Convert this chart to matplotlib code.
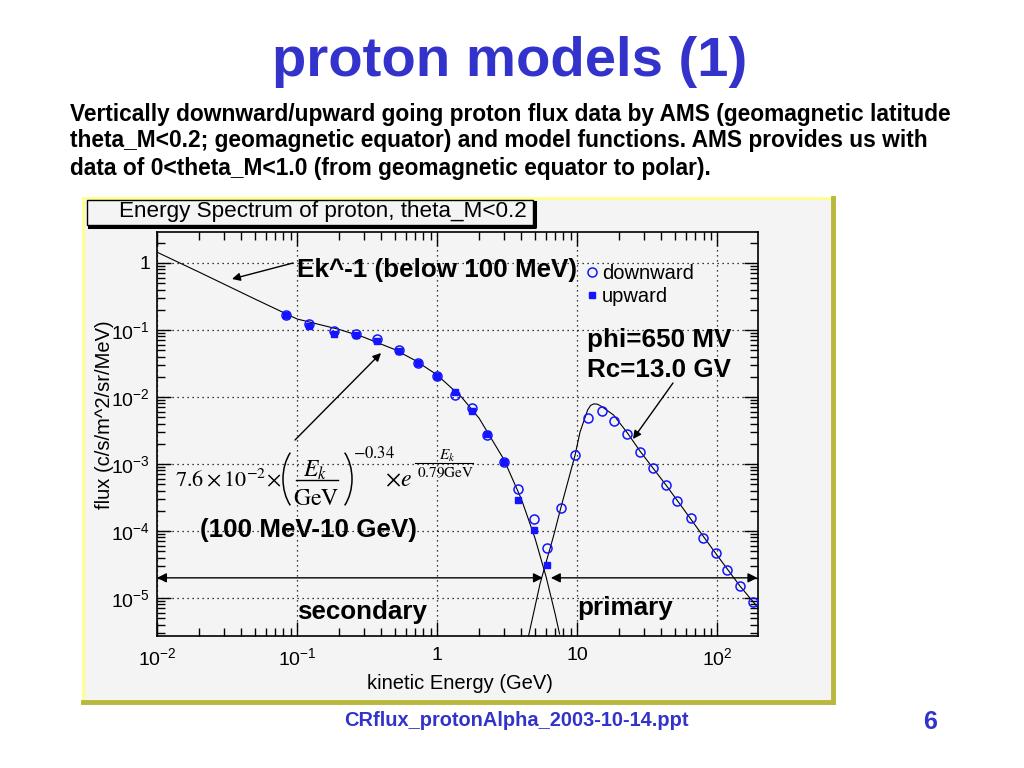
import matplotlib
matplotlib.use("Agg")
import matplotlib.pyplot as plt
import numpy as np
from matplotlib.patches import Rectangle, Arc
from matplotlib.lines import Line2D
from matplotlib.transforms import IdentityTransform
from matplotlib.ticker import LogLocator, FuncFormatter, NullFormatter

plt.rcParams['font.family'] = ['Liberation Sans', 'DejaVu Sans']
plt.rcParams['mathtext.fontset'] = 'custom'
plt.rcParams['mathtext.rm'] = 'Liberation Sans'

# AMS data, secondary part (downward circles, upward squares)
sec_energy = [0.084, 0.122, 0.184, 0.264, 0.371, 0.532, 0.728, 1.0, 1.345, 1.77, 2.29, 3.01, 3.81, 4.93, 6.14]
sec_down = [0.168, 0.121, 0.096, 0.086, 0.073, 0.050, 0.0325, 0.0208, 0.0108, 0.0068, 0.0027, 0.00108, 4.3e-4, 1.49e-4, 5.6e-5]
sec_up = [0.165, 0.115, 0.086, 0.085, 0.068, 0.049, 0.032, 0.0205, 0.0118, 0.0062, 0.0028, 0.00108, 2.9e-4, 1.03e-4, 3.1e-5]

# AMS data, primary part (downward only)
prim_energy = [7.65, 9.68, 11.9, 15.0, 18.4, 22.9, 28.2, 34.7, 43.0, 52.0, 64.8, 79.8, 98.4, 118.5, 146, 182]
prim_down = [2.23e-4, 1.36e-3, 4.8e-3, 6.25e-3, 4.43e-3, 2.77e-3, 1.49e-3, 8.6e-4, 4.86e-4, 2.84e-4,
             1.55e-4, 7.9e-5, 4.65e-5, 2.62e-5, 1.51e-5, 8.8e-6]

# model curves
sec_model_e = [0.01, 0.02, 0.05, 0.1, 0.2, 0.3, 0.5, 0.7, 1.0, 1.5, 2.0, 3.0, 4.0, 5.0, 6.0, 7.0, 7.5]
sec_model_f = [1.45, 0.73, 0.29, 0.146, 0.102, 0.078, 0.051, 0.035, 0.0214, 0.0099, 0.0048, 0.00117,
               3.0e-4, 7.9e-5, 2.1e-5, 5.6e-6, 2.9e-6]
prim_model_e = [4.5, 5.45, 6.77, 7.65, 9.68, 10.5, 11.9, 12.5, 13.2, 14.0, 15.0, 18.2, 22.9, 28.2, 43.0,
                65.0, 98.0, 146, 196]
prim_model_f = [2.7e-6, 1.66e-5, 8.2e-5, 2.2e-4, 1.36e-3, 3.0e-3, 6.4e-3, 7.5e-3, 7.9e-3, 7.8e-3, 7.2e-3,
                5.4e-3, 2.9e-3, 1.55e-3, 4.9e-4, 1.5e-4, 4.6e-5, 1.5e-5, 7.2e-6]

W, H = 1024, 768
BLUE_TXT = '#3333cc'
MARK = '#1414ff'
PIX = IdentityTransform()


def fx(px):
    return px / W


def fy(py):
    return 1 - py / H


fig = plt.figure(figsize=(10.24, 7.68), dpi=100)


def px_line(xs, ys, **kw):
    fig.add_artist(Line2D(xs, [H - y for y in ys], transform=PIX, **kw))


def px_text(x, y, s, **kw):
    fig.text(x, H - y, s, transform=PIX, **kw)


# slide texts
fig.text(fx(510), fy(62), 'proton models (1)', color=BLUE_TXT, fontsize=40.5,
         fontweight='bold', ha='center', va='center')
para = ['Vertically downward/upward going proton flux data by AMS (geomagnetic latitude',
        'theta_M<0.2; geomagnetic equator) and model functions. AMS provides us with',
        'data of 0<theta_M<1.0 (from geomagnetic equator to polar).']
for i, line in enumerate(para):
    fig.text(fx(70), fy(114 + 27 * i), line, fontsize=16.4, fontweight='bold', ha='left', va='center')
fig.text(fx(516), fy(720), 'CRflux_protonAlpha_2003-10-14.ppt', color=BLUE_TXT, fontsize=14.4,
         fontweight='bold', ha='center', va='center')
fig.text(fx(930), fy(722), '6', color=BLUE_TXT, fontsize=18, fontweight='bold', ha='center', va='center')

# ROOT canvas with its yellow frame
fig.add_artist(Rectangle((fx(83), fy(702)), (833 - 83) / W, (702 - 198) / H, transform=fig.transFigure,
                         facecolor='#f4f4f4', edgecolor='none', zorder=-2))
for (x0, y0, x1, y1, c, w) in [(83, 198, 833, 198, '#ffff8a', 2), (83, 198, 83, 702, '#ffff8a', 2),
                               (83, 702, 833, 702, '#b8b83c', 3.5), (833, 198, 833, 702, '#b8b83c', 3.5)]:
    px_line([x0, x1], [y0, y1], color=c, lw=w, zorder=-1)

# title pave with shadow
fig.add_artist(Rectangle((fx(87), fy(225)), (533 - 87) / W, (225 - 200) / H, transform=fig.transFigure,
                         facecolor='#f4f4f4', edgecolor='black', lw=1, zorder=3))
px_line([89, 535, 535], [226.5, 226.5, 202], color='black', lw=2.2, zorder=3)
fig.text(fx(323), fy(212), 'Energy Spectrum of proton, theta_M<0.2', fontsize=16.2, ha='center',
         va='center', zorder=4)

ax = fig.add_axes([fx(157), fy(636), (758 - 157) / W, (636 - 232) / H])
ax.set_facecolor('#f4f4f4')
ax.set_xscale('log')
ax.set_yscale('log')
ax.set_xlim(0.01, 196)
ax.set_ylim(2.71e-6, 2.9)

ax.plot(sec_model_e, sec_model_f, color='black', lw=0.8, zorder=2)
ax.plot(prim_model_e, prim_model_f, color='black', lw=0.8, zorder=2)
ax.plot(sec_energy, sec_up, ls='none', marker='s', ms=5, color=MARK, zorder=3)
ax.plot(sec_energy, sec_down, ls='none', marker='o', ms=6.5, mfc='none', mec=MARK, mew=1.1, zorder=4)
ax.plot(prim_energy, prim_down, ls='none', marker='o', ms=6.5, mfc='none', mec=MARK, mew=1.1, zorder=4)

h_down = Line2D([], [], ls='none', marker='o', ms=6.5, mfc='none', mec=MARK, mew=1.1)
h_up = Line2D([], [], ls='none', marker='s', ms=4.5, color=MARK)
ax.legend([h_down, h_up], ['downward', 'upward'], loc='upper left', bbox_to_anchor=(0.712, 0.921),
          frameon=False, fontsize=14.5, handlelength=0.7, handletextpad=0.15, labelspacing=0.2,
          borderaxespad=0, borderpad=0)


def tick_fmt(v, pos):
    e = int(round(np.log10(v)))
    if e == 0:
        return '1'
    if e == 1:
        return '10'
    return r'$\mathregular{10^{%d}}$' % e


for axis in (ax.xaxis, ax.yaxis):
    axis.set_major_locator(LogLocator(base=10, numticks=20))
    axis.set_minor_locator(LogLocator(base=10, subs=np.arange(2, 10), numticks=20))
    axis.set_major_formatter(FuncFormatter(tick_fmt))
    axis.set_minor_formatter(NullFormatter())
ax.tick_params(which='both', direction='in', top=True, right=True, labelsize=14, width=1)
ax.tick_params(which='major', length=10)
ax.tick_params(which='minor', length=5.5)
ax.tick_params(axis='x', pad=8)
ax.tick_params(axis='y', pad=5)
for s in ax.spines.values():
    s.set_linewidth(1.2)
ax.grid(True, which='major', color='black', ls=(0, (1, 3)), lw=0.9)

ax.set_xlabel('kinetic Energy (GeV)', fontsize=14.5)
ax.set_ylabel('flux (c/s/m^2/sr/MeV)', fontsize=14.5)
ax.xaxis.set_label_coords(0.504, -0.095)
ax.yaxis.set_label_coords(-0.072, 0.547)

# secondary / primary ranges
arrow2 = dict(arrowstyle='<|-|>', color='black', lw=1, shrinkA=0, shrinkB=0, mutation_scale=14)
ax.annotate('', xy=(0.01, 2.0e-5), xytext=(5.7, 2.0e-5), arrowprops=arrow2)
ax.annotate('', xy=(6.5, 2.0e-5), xytext=(194, 2.0e-5), arrowprops=arrow2)

# annotations in slide pixel coordinates
arrow1 = dict(arrowstyle='-|>', color='black', lw=1, shrinkA=0, shrinkB=0, mutation_scale=12)
for tail, tip in [((293, 263), (232, 279)), ((295, 440), (381, 353)), ((673, 383), (633, 439))]:
    ax.annotate('', xy=(tip[0], H - tip[1]), xytext=(tail[0], H - tail[1]), xycoords='figure pixels',
                textcoords='figure pixels', arrowprops=arrow1, zorder=5)

big = dict(fontsize=18.7, fontweight='bold', ha='left', va='center', zorder=6)
fig.text(fx(297), fy(270), 'Ek^-1 (below 100 MeV)', **big)
fig.text(fx(587), fy(340), 'phi=650 MV', **big)
fig.text(fx(587), fy(370), 'Rc=13.0 GV', **big)
fig.text(fx(200), fy(530), '(100 MeV-10 GeV)', **big)
fig.text(fx(297), fy(612), 'secondary', **big)
fig.text(fx(577), fy(608), 'primary', **big)

# secondary model formula, laid out piece by piece like the equation object on the slide
mth = dict(math_fontfamily='stix', zorder=6)
px_text(175, 486, r'$7.6\times10^{-2}\!\times$', fontsize=16, ha='left', va='baseline', **mth)
px_text(315, 477, r'$E_k$', fontsize=17, ha='center', va='baseline', **mth)
px_line([296, 338], [480, 480], color='black', lw=1, zorder=6)
px_text(316, 505, r'$\mathrm{GeV}$', fontsize=17, ha='center', va='baseline', **mth)
pa, pb = 25.8, 37.8
fig.add_artist(Arc((283 + pa, H - 479), 2 * pa, 2 * pb, theta1=125, theta2=235, transform=PIX,
                   color='black', lw=1.1, zorder=6))
fig.add_artist(Arc((352 - pa, H - 479), 2 * pa, 2 * pb, theta1=-55, theta2=55, transform=PIX,
                   color='black', lw=1.1, zorder=6))
px_text(353, 453, r'$-0.34$', fontsize=12, ha='left', va='center', **mth)
px_text(385, 486, r'$\times e$', fontsize=17, ha='left', va='baseline', **mth)
px_line([415, 473], [463, 463], color='black', lw=0.8, zorder=6)
px_text(447, 460, r'$E_k$', fontsize=11, ha='center', va='baseline', **mth)
px_text(446, 477, r'$\mathrm{0.79GeV}$', fontsize=11, ha='center', va='baseline', **mth)

fig.savefig('out.png', dpi=100)
